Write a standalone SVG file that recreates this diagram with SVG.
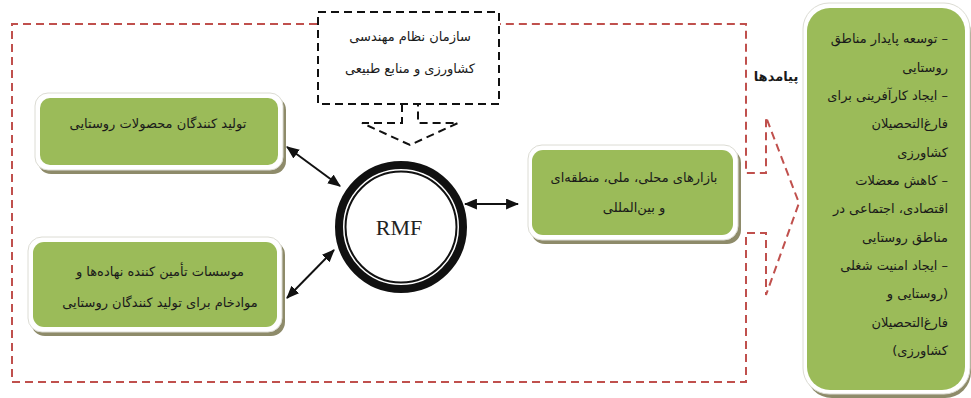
<svg xmlns="http://www.w3.org/2000/svg" width="971" height="398" viewBox="0 0 971 398">
<defs>
<style>
.shadow{fill:#8e8b6a;}
.frame{fill:#ffffff;stroke:#dcdcd4;stroke-width:1;}
.green{fill:#9bbb59;}
.fa{font-family:"DejaVu Sans",sans-serif;font-size:13px;fill:#1a1a1a;direction:rtl;}
.red{fill:none;stroke:#c0504d;stroke-width:2;stroke-dasharray:8,5;}
.blk{fill:none;stroke:#111;stroke-width:2;stroke-dasharray:8,5;}
.conn{stroke:#111;stroke-width:2;fill:none;}
</style>
<marker id="ah" viewBox="0 0 12 10" refX="11" refY="5" markerWidth="13" markerHeight="11" markerUnits="userSpaceOnUse" orient="auto-start-reverse">
<path d="M0,0 L12,5 L0,10 Z" fill="#111"/>
</marker>
</defs>
<rect width="971" height="398" fill="#ffffff"/>

<g id="outcome-frame">
<path class="red" d="M317,24 H12 V382 H746 V233 H766 V295 L799,203 L766,117 V173 H746 V24 H500"/>
</g>

<g id="org">
<rect class="blk" x="318" y="12" width="181" height="92"/>
<text class="fa" x="410" y="41" text-anchor="middle">سازمان نظام مهندسی</text>
<text class="fa" x="410" y="73" text-anchor="middle">کشاورزی و منابع طبیعی</text>
<path class="blk" d="M402,104 V123 H362 L410,145 L458,123 H418 V104"/>
</g>

<g id="producers">
<rect class="shadow" x="38" y="97" width="248" height="77" rx="13"/>
<rect class="frame" x="35" y="93" width="248" height="77" rx="13"/>
<rect class="green" x="40" y="98" width="238" height="67" rx="10"/>
<text class="fa" x="158" y="128" text-anchor="middle">تولید کنندگان محصولات روستایی</text>
</g>

<g id="suppliers">
<rect class="shadow" x="31" y="241" width="254" height="95" rx="14"/>
<rect class="frame" x="28" y="237" width="254" height="95" rx="14"/>
<rect class="green" x="33" y="242" width="244" height="85" rx="11"/>
<text class="fa" x="160" y="276" text-anchor="middle">موسسات تأمین کننده نهاده‌ها و</text>
<text class="fa" x="160" y="307" text-anchor="middle">موادخام برای تولید کنندگان روستایی</text>
</g>

<g id="markets">
<rect class="shadow" x="531" y="149" width="210" height="95" rx="14"/>
<rect class="frame" x="528" y="145" width="210" height="95" rx="14"/>
<rect class="green" x="532" y="150" width="201" height="85" rx="11"/>
<text class="fa" x="634" y="182" text-anchor="middle">بازارهای محلی، ملی، منطقه‌ای</text>
<text class="fa" x="634" y="212" text-anchor="middle">و بین‌المللی</text>
</g>

<g id="rmf">
<circle cx="401" cy="227" r="62" fill="#ffffff" stroke="#111" stroke-width="8"/>
<circle cx="401" cy="227" r="55.5" fill="none" stroke="#111" stroke-width="2"/>
<text x="399" y="235" text-anchor="middle" font-family="Liberation Serif, serif" font-size="22" fill="#222">RMF</text>
</g>

<g id="outcomes">
<rect class="shadow" x="806" y="7" width="165" height="391" rx="26"/>
<rect class="frame" x="803" y="3" width="167" height="391" rx="26"/>
<rect class="green" x="807" y="8" width="158" height="382" rx="23"/>
<text class="fa" x="948" y="43" text-anchor="start">– توسعه پایدار مناطق</text>
<text class="fa" x="948" y="72" text-anchor="start">روستایی</text>
<text class="fa" x="948" y="100" text-anchor="start">– ایجاد کارآفرینی برای</text>
<text class="fa" x="948" y="128" text-anchor="start">فارغ‌التحصیلان</text>
<text class="fa" x="948" y="157" text-anchor="start">کشاورزی</text>
<text class="fa" x="948" y="185" text-anchor="start">– کاهش معضلات</text>
<text class="fa" x="948" y="213" text-anchor="start">اقتصادی، اجتماعی در</text>
<text class="fa" x="948" y="242" text-anchor="start">مناطق روستایی</text>
<text class="fa" x="948" y="270" text-anchor="start">– ایجاد امنیت شغلی</text>
<text class="fa" x="948" y="298" text-anchor="start">(روستایی و</text>
<text class="fa" x="948" y="327" text-anchor="start">فارغ‌التحصیلان</text>
<text class="fa" x="948" y="355" text-anchor="start">کشاورزی)</text>
</g>

<g id="outcomes-label">
<text class="fa" x="776" y="81" text-anchor="middle" font-weight="bold" font-size="12">پیامدها</text>
</g>

<g id="connectors">
<line class="conn" x1="287" y1="147" x2="340" y2="186" marker-start="url(#ah)" marker-end="url(#ah)"/>
<line class="conn" x1="334" y1="250" x2="287" y2="298" marker-start="url(#ah)" marker-end="url(#ah)"/>
<line class="conn" x1="465" y1="204" x2="518" y2="204" marker-start="url(#ah)" marker-end="url(#ah)"/>
</g>
</svg>
